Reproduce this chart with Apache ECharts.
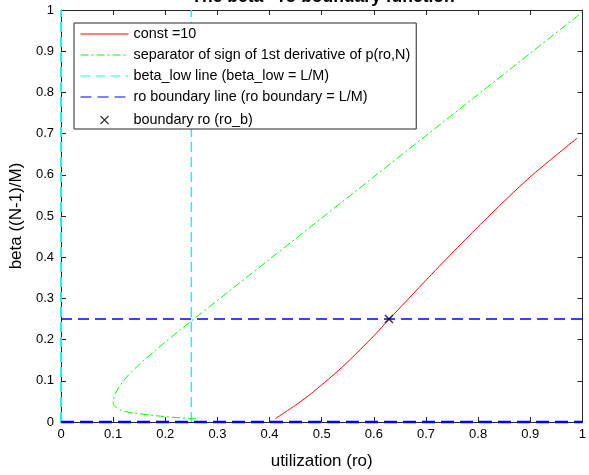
<!DOCTYPE html>
<html>
<head>
<meta charset="utf-8">
<script src="https://cdn.jsdelivr.net/npm/echarts@6/dist/echarts.min.js"></script>
<style>html,body{margin:0;padding:0;background:#fff;}#c{width:589px;height:475px;}</style>
</head>
<body>
<div id="c"></div>
<script>
// ---- data ----
var xTicks = [0, 0.1, 0.2, 0.3, 0.4, 0.5, 0.6, 0.7, 0.8, 0.9, 1];
var yTicks = [0, 0.1, 0.2, 0.3, 0.4, 0.5, 0.6, 0.7, 0.8, 0.9, 1];
var legendNames = [
  'const =10',
  'separator of sign of 1st derivative of p(ro,N)',
  'beta_low line (beta_low = L/M)',
  'ro boundary line (ro boundary = L/M)',
  'boundary ro (ro_b)'
];
// red curve (const = 10): [ro, beta]
var constRo   = [0.411, 0.43, 0.45, 0.475, 0.5, 0.525, 0.55, 0.575, 0.6, 0.629, 0.65, 0.7, 0.75, 0.8, 0.85, 0.9, 0.95, 0.99];
var constBeta = [0.008, 0.024, 0.041, 0.064, 0.09, 0.117, 0.146, 0.177, 0.209, 0.249, 0.277, 0.344, 0.41, 0.474, 0.536, 0.595, 0.648, 0.689];
// green separator curve (traced in order from its lower end)
var sepRo   = [0.259, 0.23, 0.2, 0.17, 0.14, 0.125, 0.1125, 0.104, 0.101, 0.1, 0.101, 0.104, 0.109, 0.117, 0.128, 0.142, 0.16, 0.18, 0.2, 0.225, 0.25, 0.3, 0.4, 0.5, 0.6, 0.7, 0.8, 0.9, 1.0];
var sepBeta = [0.008, 0.010, 0.013, 0.017, 0.022, 0.025, 0.030, 0.037, 0.042, 0.05, 0.058, 0.068, 0.08, 0.095, 0.112, 0.13, 0.151, 0.173, 0.194, 0.22, 0.245, 0.295, 0.395, 0.495, 0.595, 0.695, 0.795, 0.895, 0.995];
// beta_low vertical lines (ro values), full height
var betaLowRo = [0.25, 0];
// ro boundary horizontal lines (beta values), full width
var roBoundBeta = [0.25, 0];
// boundary point
var roB = [0.629, 0.25];

function zip(a, b) { return a.map(function (v, i) { return [v, b[i]]; }); }

var axisColor = '#262626';
var chart = echarts.init(document.getElementById('c'), null, {renderer: 'canvas'});
var FONT = 'Liberation Sans, Arial, sans-serif';
var xPath = 'path://M0,0M48,13M20,2.5L28,10.5M28,2.5L20,10.5';
var hideSym = {color: 'rgba(0,0,0,0)', borderWidth: 0, borderColor: 'rgba(0,0,0,0)'};

var option = {
  animation: false,
  backgroundColor: '#fff',
  textStyle: {fontFamily: FONT},
  graphic: [{
    type: 'text', x: 323, y: 6, silent: true,
    style: {text: 'The beta - ro boundary function', align: 'center', verticalAlign: 'bottom',
      font: 'bold 17.5px ' + FONT, fill: '#000'}
  }],
  grid: {left: 61, right: 3.5, top: 10, bottom: 51, containLabel: false},
  legend: {
    left: 74, top: 23, orient: 'vertical',
    backgroundColor: '#fff', borderColor: axisColor, borderWidth: 1,
    padding: [4, 6, 0, 4], itemWidth: 48, itemHeight: 13, itemGap: 7,
    lineStyle: {width: 1},
    textStyle: {fontSize: 14.4, lineHeight: 14, color: '#000', fontFamily: FONT},
    data: [
      {name: legendNames[0], itemStyle: hideSym}, {name: legendNames[1], itemStyle: hideSym},
      {name: legendNames[2], itemStyle: hideSym}, {name: legendNames[3], itemStyle: hideSym},
      {name: legendNames[4], icon: xPath, itemStyle: {color: 'none', borderColor: '#000', borderWidth: 1.2}}
    ]
  },
  xAxis: [{
    type: 'value', min: 0, max: 1, interval: 0.1,
    name: 'utilization (ro)', nameLocation: 'middle', nameGap: 31,
    nameTextStyle: {fontSize: 17, color: '#000', fontFamily: FONT},
    axisLine: {show: true, onZero: false, lineStyle: {color: axisColor, width: 1}},
    axisTick: {show: true, inside: true, length: 5, lineStyle: {color: axisColor}},
    axisLabel: {margin: 6, fontSize: 13, color: '#000', fontFamily: FONT,
      formatter: function (v) { var i = Math.round(v * 10); return String(xTicks[i]); }},
    splitLine: {show: false}
  }, {
    type: 'value', min: 0, max: 1, interval: 0.1, position: 'top',
    axisLine: {show: true, onZero: false, lineStyle: {color: axisColor, width: 1}},
    axisTick: {show: true, inside: true, length: 5, lineStyle: {color: axisColor}},
    axisLabel: {show: false}, splitLine: {show: false}
  }],
  yAxis: [{
    type: 'value', min: 0, max: 1, interval: 0.1,
    name: 'beta ((N-1)/M)', nameLocation: 'middle', nameGap: 36,
    nameTextStyle: {fontSize: 17, color: '#000', fontFamily: FONT},
    axisLine: {show: true, onZero: false, lineStyle: {color: axisColor, width: 1}},
    axisTick: {show: true, inside: true, length: 5, lineStyle: {color: axisColor}},
    axisLabel: {margin: 7, fontSize: 13, color: '#000', fontFamily: FONT,
      formatter: function (v) { var i = Math.round(v * 10); return String(yTicks[i]); }},
    splitLine: {show: false}
  }, {
    type: 'value', min: 0, max: 1, interval: 0.1, position: 'right',
    axisLine: {show: true, onZero: false, lineStyle: {color: axisColor, width: 1}},
    axisTick: {show: true, inside: true, length: 5, lineStyle: {color: axisColor}},
    axisLabel: {show: false}, splitLine: {show: false}
  }],
  series: [
    {name: legendNames[0], type: 'line', data: zip(constRo, constBeta), symbol: 'none', smooth: 0.2,
      lineStyle: {color: '#ff0000', width: 1}, itemStyle: {color: '#ff0000'}, z: 5},
    {name: legendNames[1], type: 'line', data: zip(sepRo, sepBeta), symbol: 'none', smooth: 0.3,
      lineStyle: {color: '#00ff00', width: 1, type: [8, 3, 2, 3]}, itemStyle: {color: '#00ff00'}, z: 4},
    {name: legendNames[2], type: 'line', data: [[betaLowRo[0], 0], [betaLowRo[0], 1]], symbol: 'none',
      lineStyle: {color: '#00ffff', width: 1.4, type: [10, 5]}, itemStyle: {color: '#00ffff'}, z: 3},
    {name: legendNames[2], type: 'line', data: [[betaLowRo[1], 0], [betaLowRo[1], 1]], symbol: 'none', clip: false,
      lineStyle: {color: '#00ffff', width: 2, type: [10, 5]}, itemStyle: {color: '#00ffff'}, z: 3},
    {name: legendNames[3], type: 'line', data: [[0, roBoundBeta[0]], [1, roBoundBeta[0]]], symbol: 'none',
      lineStyle: {color: '#0000ff', width: 1.3, type: [11, 6]}, itemStyle: {color: '#0000ff'}, z: 3},
    {name: legendNames[3], type: 'line', data: [[0, roBoundBeta[1]], [1, roBoundBeta[1]]], symbol: 'none', clip: false,
      lineStyle: {color: '#0000ff', width: 2.5, type: [13, 6]}, itemStyle: {color: '#0000ff'}, z: 3},
    {name: legendNames[4], type: 'scatter', data: [roB], symbol: 'path://M0,0L10,10M10,0L0,10', symbolSize: 8,
      itemStyle: {color: 'none', borderColor: '#000', borderWidth: 1.4}, z: 6}
  ]
};
chart.setOption(option);
</script>
</body>
</html>
